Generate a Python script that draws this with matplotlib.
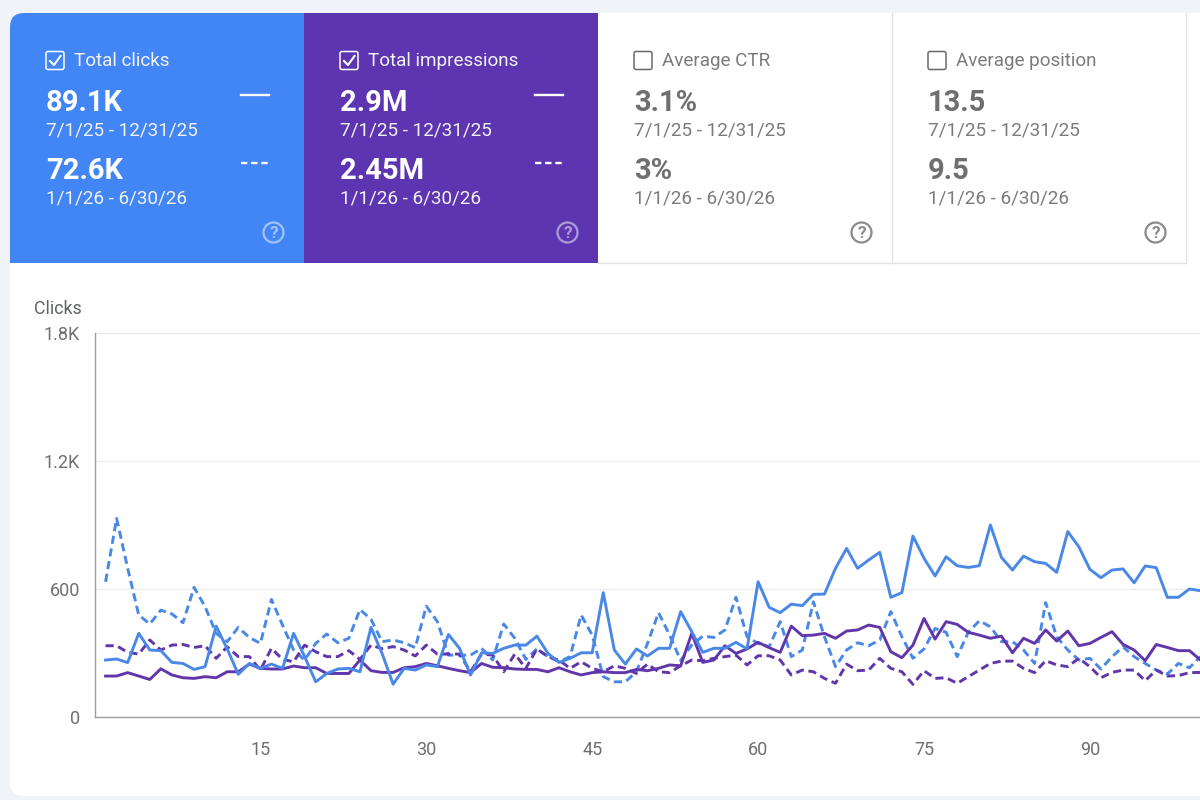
import numpy as np
import matplotlib
matplotlib.use("Agg")
import matplotlib.pyplot as plt
from matplotlib.patches import FancyBboxPatch, Rectangle, Circle, PathPatch
from matplotlib.path import Path

plt.rcParams["font.family"] = ["Roboto", "DejaVu Sans"]

clicks_current = [267, 272, 255, 392, 314, 311, 256, 251, 223, 236, 426, 319, 200, 251, 228, 248, 228, 392, 283, 165,
                  204, 225, 228, 212, 420, 298, 154, 228, 220, 244, 236, 387, 322, 197, 301, 298, 322, 337, 337, 379,
                  298, 256, 275, 301, 301, 583, 314, 248, 319, 286, 322, 322, 494, 400, 303, 322, 322, 350, 319, 634,
                  514, 489, 529, 522, 575, 576, 697, 790, 697, 736, 772, 561, 583, 848, 744, 661, 751, 709, 701, 709,
                  900, 748, 689, 754, 728, 720, 678, 869, 798, 692, 653, 689, 694, 629, 708, 700, 561, 561, 600, 592]
clicks_previous = [634, 931, 697, 478, 436, 501, 483, 442, 608, 517, 392, 353, 420, 373, 345, 551, 431, 314, 267, 345,
                   389, 348, 369, 504, 458, 353, 361, 348, 325, 520, 447, 290, 290, 290, 322, 267, 436, 369, 270, 319,
                   283, 259, 283, 478, 384, 189, 165, 165, 212, 345, 489, 384, 265, 337, 379, 373, 408, 561, 376, 345,
                   329, 447, 283, 314, 540, 376, 236, 314, 348, 334, 361, 494, 376, 275, 319, 415, 397, 283, 397, 451,
                   423, 353, 353, 314, 251, 536, 376, 314, 267, 275, 225, 283, 329, 283, 251, 220, 201, 251, 231, 283]
impressions_current = [192, 192, 208, 192, 176, 226, 197, 184, 181, 189, 184, 212, 212, 248, 228, 225, 225, 239, 231, 231,
                       204, 204, 204, 267, 217, 209, 209, 231, 236, 251, 240, 228, 217, 208, 251, 233, 231, 225, 223, 223,
                       212, 231, 212, 197, 208, 212, 208, 208, 223, 217, 228, 244, 240, 392, 256, 267, 334, 298, 319, 350,
                       325, 303, 426, 381, 384, 392, 369, 403, 408, 431, 420, 306, 278, 337, 462, 365, 447, 434, 397, 384,
                       369, 379, 301, 369, 345, 408, 356, 403, 334, 345, 373, 400, 340, 314, 264, 340, 326, 311, 311, 267]
impressions_previous = [334, 334, 303, 295, 361, 314, 337, 340, 326, 334, 275, 329, 283, 283, 220, 322, 270, 259, 337, 306,
                        283, 283, 311, 270, 337, 320, 330, 314, 286, 337, 295, 295, 295, 212, 295, 290, 212, 295, 228, 319,
                        283, 267, 228, 259, 228, 212, 240, 228, 204, 248, 212, 208, 240, 267, 264, 275, 283, 290, 244, 287,
                        287, 267, 197, 220, 212, 181, 158, 248, 217, 220, 275, 228, 212, 153, 217, 181, 184, 158, 189, 220,
                        251, 262, 262, 228, 208, 264, 244, 236, 275, 236, 184, 209, 220, 220, 170, 220, 192, 194, 208, 209]

y_ticks = [0, 600, 1200, 1800]
y_labels = ["0", "600", "1.2K", "1.8K"]
x_ticks = [15, 30, 45, 60, 75, 90]

card_titles = ["Total clicks", "Total impressions", "Average CTR", "Average position"]
card_current = ["89.1K", "2.9M", "3.1%", "13.5"]
card_previous = ["72.6K", "2.45M", "3%", "9.5"]
range_current = "7/1/25 - 12/31/25"
range_previous = "1/1/26 - 6/30/26"

BLUE = "#4285f4"
PURPLE = "#5e35b1"
LINE_BLUE = "#4a88e8"
LINE_PURPLE = "#6236ab"
GREY_TEXT = "#6f6f6f"

fig = plt.figure(figsize=(12, 8), dpi=100, facecolor="#f0f4f9")

# page chrome, in pixel coordinates
bg = fig.add_axes([0, 0, 1, 1])
bg.set_xlim(0, 1200)
bg.set_ylim(800, 0)
bg.axis("off")

bg.add_patch(FancyBboxPatch((10, 13), 1300, 783, boxstyle="round,pad=0,rounding_size=14", fc="white", ec="none"))

# blue card has a rounded top-left corner
blue_path = Path([(304, 13), (24, 13), (10, 13), (10, 27), (10, 263), (304, 263), (304, 13)],
                 [Path.MOVETO, Path.LINETO, Path.CURVE3, Path.CURVE3, Path.LINETO, Path.LINETO, Path.CLOSEPOLY])
bg.add_patch(PathPatch(blue_path, fc=BLUE, ec="none"))
bg.add_patch(Rectangle((304, 13), 294, 250, fc=PURPLE, ec="none"))
bg.plot([598, 1186], [263, 263], color="#e3e3e3", lw=1)
bg.plot([891.5, 891.5], [13, 263], color="#e3e3e3", lw=1)
bg.plot([1186, 1186], [13, 263], color="#e3e3e3", lw=1)

card_left = [46, 340, 634, 928]
for i in range(4):
    x = card_left[i]
    selected = i < 2
    fg = "white" if selected else GREY_TEXT
    soft = "#f2f2f2" if selected else "#7b7b7b"
    bg.add_patch(FancyBboxPatch((x, 51.5), 18, 18, boxstyle="round,pad=0,rounding_size=2", fc="none",
                                ec="white" if selected else "#6a6a6a", lw=1.1))
    if selected:
        bg.plot([x + 4, x + 8, x + 14.5], [61, 65, 56], color="white", lw=1.5)
    bg.text(x + 28, 60.5, card_titles[i], color=soft, fontsize=13.6, va="center")
    bg.text(x, 103, card_current[i], color=fg, fontsize=21, fontweight="bold", va="center")
    bg.text(x, 130.5, range_current, color=soft, fontsize=13.6, va="center")
    bg.text(x, 171, card_previous[i], color=fg, fontsize=21, fontweight="bold", va="center")
    bg.text(x, 198.5, range_previous, color=soft, fontsize=13.6, va="center")
    if selected:
        bg.plot([x + 195, x + 223], [95, 95], color="white", lw=1.7)
        bg.plot([x + 195, x + 223], [163, 163], color="white", lw=1.7, dashes=(2.7, 1.6))
    help_col = "#ffffff" if selected else "#8a8a8a"
    alpha = 0.5 if selected else 1
    bg.add_patch(Circle((x + 227.5, 232.5), 10, fc="none", ec=help_col, lw=1.6, alpha=alpha))
    bg.text(x + 227.5, 233, "?", color=help_col, alpha=alpha, fontsize=12.5, fontweight="bold", ha="center", va="center")

bg.text(34, 309, "Clicks", color="#5f6368", fontsize=12.8, va="center")

# chart
left, right = 94.5, 1200
top, bottom = 333, 717
ax = fig.add_axes([left / 1200, 1 - bottom / 800, (right - left) / 1200, (bottom - top) / 800])
ax.patch.set_alpha(0)
days = np.arange(1, len(clicks_current) + 1)

ax.plot(days, clicks_previous, color=LINE_BLUE, lw=2.1, dashes=(2.8, 1.6), zorder=3)
ax.plot(days, impressions_previous, color=LINE_PURPLE, lw=2.1, dashes=(2.8, 1.6), zorder=3)
ax.plot(days, impressions_current, color=LINE_PURPLE, lw=2.1, zorder=4)
ax.plot(days, clicks_current, color=LINE_BLUE, lw=2.1, zorder=4)

ax.set_xlim(0, (right - left) / 11.06)
ax.set_ylim(0, 1800)
ax.set_xticks(x_ticks)
ax.set_yticks(y_ticks)
ax.set_yticklabels(y_labels)
ax.grid(axis="y", color="#ececec", lw=1)
ax.set_axisbelow(True)
ax.tick_params(length=0, labelcolor="#6f6f6f", labelsize=13)
ax.tick_params(axis="x", pad=17)
ax.tick_params(axis="y", pad=10.5)
for side in ["top", "right"]:
    ax.spines[side].set_visible(False)
for side in ["left", "bottom"]:
    ax.spines[side].set_color("#9e9e9e")
    ax.spines[side].set_linewidth(1)

fig.savefig("out.png", dpi=100, facecolor=fig.get_facecolor())
